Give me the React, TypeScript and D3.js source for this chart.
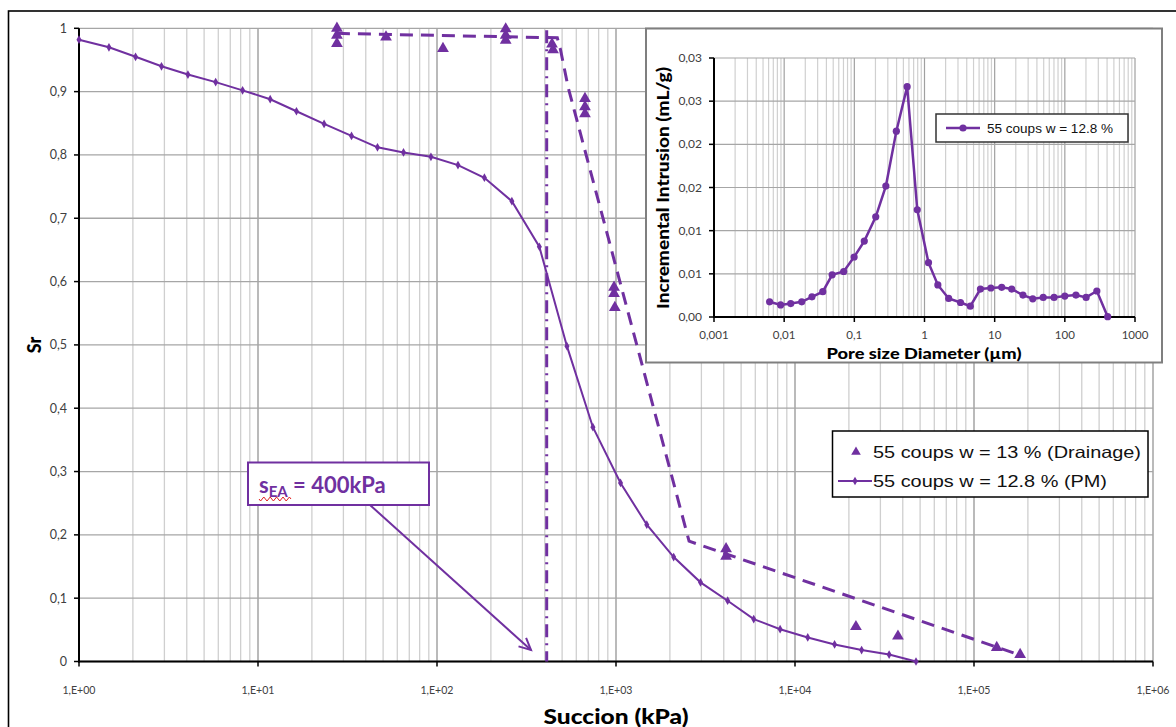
import React from "react";
import * as d3 from "d3";

// ---------- Main chart data ----------
const pmSuction = [1.0, 1.47, 2.07, 2.89, 4.06, 5.8, 8.2, 11.7, 16.4, 23.4, 33.3, 46.5, 65, 92.5, 131, 184, 262, 373, 532, 743, 1060, 1486, 2100, 2965, 4205, 5880, 8260, 11780, 16640, 23560, 33560, 47430];
const pmSr = [0.982, 0.970, 0.955, 0.940, 0.927, 0.915, 0.902, 0.888, 0.869, 0.849, 0.830, 0.812, 0.804, 0.797, 0.784, 0.764, 0.727, 0.655, 0.498, 0.370, 0.282, 0.216, 0.165, 0.125, 0.096, 0.067, 0.051, 0.038, 0.027, 0.018, 0.011, 0.0];

const drainSuction = [27.6, 27.6, 27.6, 51.9, 108, 242, 242, 242, 439, 445, 671, 671, 671, 975, 975, 985, 4120, 4120, 21900, 37600, 134000, 181000];
const drainSr = [1.0, 0.989, 0.976, 0.986, 0.968, 0.999, 0.989, 0.981, 0.975, 0.966, 0.889, 0.876, 0.865, 0.591, 0.581, 0.559, 0.178, 0.166, 0.055, 0.040, 0.022, 0.011];

const fitSuction = [27.6, 470, 490, 540, 2560, 181000];
const fitSr = [0.992, 0.985, 0.966, 0.907, 0.19, 0.01];

const sEA = 410;

const xTickValues = [1, 10, 100, 1000, 10000, 100000, 1000000];
const xTickLabels = ["1,E+00", "1,E+01", "1,E+02", "1,E+03", "1,E+04", "1,E+05", "1,E+06"];
const yTickValues = [0, 0.1, 0.2, 0.3, 0.4, 0.5, 0.6, 0.7, 0.8, 0.9, 1];
const yTickLabels = ["0", "0,1", "0,2", "0,3", "0,4", "0,5", "0,6", "0,7", "0,8", "0,9", "1"];

const legendLabels = ["55 coups w = 13 % (Drainage)", "55 coups w = 12.8 % (PM)"];

// ---------- Inset data ----------
const poreDiameter = [0.0062, 0.0089, 0.0124, 0.0178, 0.0249, 0.0355, 0.0483, 0.0705, 0.0993, 0.1386, 0.2019, 0.2813, 0.397, 0.566, 0.789, 1.14, 1.55, 2.21, 3.26, 4.5, 6.27, 8.83, 12.6, 17.5, 25.3, 34.9, 49.2, 70.2, 100, 144, 201, 286, 408];
const incIntrusion = [0.00176, 0.0014, 0.00156, 0.00176, 0.00234, 0.00293, 0.00488, 0.00527, 0.00695, 0.00879, 0.0116, 0.01516, 0.02152, 0.02668, 0.01242, 0.00629, 0.00371, 0.00215, 0.00168, 0.00125, 0.00324, 0.00336, 0.00344, 0.00324, 0.00254, 0.00211, 0.00227, 0.00227, 0.00242, 0.00254, 0.00227, 0.00301, 0.00004];
const insetXTicks = [0.001, 0.01, 0.1, 1, 10, 100, 1000];
const insetXLabels = ["0,001", "0,01", "0,1", "1", "10", "100", "1000"];
const insetYTicks = [0, 0.005, 0.01, 0.015, 0.02, 0.025, 0.03];
const insetYLabels = ["0,00", "0,01", "0,01", "0,02", "0,02", "0,03", "0,03"];
const insetLegend = "55 coups w = 12.8 %";

const PURPLE = "#7030A0";
const TICK_COLOR = "#404040";
const CAL = "Lato, 'Open Sans', sans-serif";
const ARIAL = "'Liberation Sans', Arial, sans-serif";

function minorTicks(lo: number, hi: number): number[] {
  const out: number[] = [];
  for (let e = Math.round(Math.log10(lo)); e < Math.round(Math.log10(hi)); e++) {
    for (let k = 2; k <= 9; k++) out.push(k * Math.pow(10, e));
  }
  return out;
}

export default function App() {
  const W = 1176, H = 727;
  const x = d3.scaleLog().domain([1, 1e6]).range([79, 1153]);
  const y = d3.scaleLinear().domain([0, 1]).range([661.5, 28.3]);

  const xi = d3.scaleLog().domain([0.001, 1000]).range([714, 1135]);
  const yi = d3.scaleLinear().domain([0, 0.03]).range([317, 58]);

  const pmLine = d3.line<number>().x((_, i) => x(pmSuction[i])).y((_, i) => y(pmSr[i]))(pmSuction)!;
  const fitLine = d3.line<number>().x((_, i) => x(fitSuction[i])).y((_, i) => y(fitSr[i]))(fitSuction)!;
  const insetLine = d3.line<number>().x((_, i) => xi(poreDiameter[i])).y((_, i) => yi(incIntrusion[i]))(poreDiameter)!;

  const tri = d3.symbol().type(d3.symbolTriangle).size(60)()!;
  const triSmall = d3.symbol().type(d3.symbolTriangle).size(40)()!;
  const diamond = d3.symbol().type(d3.symbolDiamond).size(22)()!;

  const mainMinor = minorTicks(1, 1e6);
  const insetMinor = minorTicks(0.001, 1000);

  // Annotation arrow
  const ax1 = 370, ay1 = 505, ax2 = 531, ay2 = 650;
  const ang = Math.atan2(ay2 - ay1, ax2 - ax1);
  const hl = 13, ha = 0.45;
  const head = `M${ax2 - hl * Math.cos(ang - ha)},${ay2 - hl * Math.sin(ang - ha)} L${ax2},${ay2} L${ax2 - hl * Math.cos(ang + ha)},${ay2 - hl * Math.sin(ang + ha)}`;

  // red squiggle under sEA
  let squig = "M259,499";
  for (let i = 0; i < 10; i++) squig += ` l1.6,${i % 2 === 0 ? 2 : -2} l1.6,${i % 2 === 0 ? -2 : 2}`;

  return (
    <svg width={W} height={H} style={{ position: "absolute", left: 0, top: 0, background: "#fff" }}>
      <rect x={0} y={0} width={W} height={H} fill="#fff" />
      {/* outer frame */}
      <rect x={8.5} y={11} width={1200} height={760} fill="none" stroke="#000" strokeWidth={1.6} />

      {/* main grid */}
      {mainMinor.map((v, i) => (
        <line key={"mn" + i} x1={x(v)} x2={x(v)} y1={y(1)} y2={y(0)} stroke="#cfcfcf" strokeWidth={1.3} />
      ))}
      {xTickValues.map((v, i) => (
        <line key={"mj" + i} x1={x(v)} x2={x(v)} y1={y(1)} y2={y(0)} stroke="#8c8c8c" strokeWidth={1.2} />
      ))}
      {yTickValues.map((v, i) => (
        <line key={"hy" + i} x1={x(1)} x2={x(1e6)} y1={y(v)} y2={y(v)} stroke="#a6a6a6" strokeWidth={1.3} />
      ))}

      {/* axes */}
      <line x1={x(1)} x2={x(1)} y1={y(1)} y2={y(0) + 1} stroke="#000" strokeWidth={2} />
      <line x1={x(1) - 1} x2={x(1e6)} y1={y(0)} y2={y(0)} stroke="#000" strokeWidth={2} />
      {yTickValues.map((v, i) => (
        <line key={"yt" + i} x1={x(1) - 5} x2={x(1)} y1={y(v)} y2={y(v)} stroke="#000" strokeWidth={1.5} />
      ))}
      {xTickValues.map((v, i) => (
        <line key={"xt" + i} x1={x(v)} x2={x(v)} y1={y(0)} y2={y(0) + 5} stroke="#000" strokeWidth={1.5} />
      ))}
      {yTickValues.map((v, i) => (
        <text key={"yl" + i} x={67} y={y(v) + 4.5} textAnchor="end" fontFamily={CAL} fontSize={12.5} fill={TICK_COLOR}>{yTickLabels[i]}</text>
      ))}
      {xTickValues.map((v, i) => (
        <text key={"xl" + i} x={x(v)} y={694} textAnchor="middle" fontFamily={CAL} fontSize={11} fill={TICK_COLOR} textLength={33} lengthAdjust="spacingAndGlyphs">{xTickLabels[i]}</text>
      ))}
      <text x={616} y={724} textAnchor="middle" fontFamily={CAL} fontWeight="900" fontSize={21} fill="#000" textLength={145} lengthAdjust="spacingAndGlyphs">Succion (kPa)</text>
      <text transform="translate(41,345) rotate(-90)" textAnchor="middle" fontFamily={CAL} fontWeight="900" fontSize={18} fill="#000">Sr</text>

      {/* dash-dot sEA line */}
      <line x1={x(sEA)} x2={x(sEA)} y1={y(0.997)} y2={y(0)} stroke={PURPLE} strokeWidth={3} strokeDasharray="13 6 2 6" />

      {/* fitted dashed line */}
      <path d={fitLine} fill="none" stroke={PURPLE} strokeWidth={3} strokeDasharray="13 8" />

      {/* PM curve */}
      <path d={pmLine} fill="none" stroke={PURPLE} strokeWidth={2} />
      {pmSuction.map((s, i) => (
        <path key={"pm" + i} d={diamond} transform={`translate(${x(s)},${y(pmSr[i])})`} fill={PURPLE} />
      ))}

      {/* drainage triangles */}
      {drainSuction.map((s, i) => (
        <path key={"dr" + i} d={tri} transform={`translate(${x(s)},${y(drainSr[i])})`} fill={PURPLE} />
      ))}

      {/* annotation */}
      <rect x={248} y={462.5} width={181} height={42.5} fill="#fff" stroke={PURPLE} strokeWidth={2} />
      <text x={259} y={493} fontFamily={CAL} fontWeight="bold" fontSize={22} fill={PURPLE}>
        s<tspan fontSize={15} dy={4}>EA</tspan><tspan dy={-4}> = 400kPa</tspan>
      </text>
      <path d={squig} fill="none" stroke="#e02020" strokeWidth={1} />
      <line x1={ax1} y1={ay1} x2={ax2} y2={ay2} stroke={PURPLE} strokeWidth={2} />
      <path d={head} fill="none" stroke={PURPLE} strokeWidth={2} />

      {/* main legend */}
      <rect x={832.5} y={431} width={315.5} height={66} fill="#fff" stroke="#000" strokeWidth={1.5} />
      <path d={triSmall} transform="translate(856,452)" fill={PURPLE} />
      <text x={873} y={458} fontFamily={ARIAL} fontSize={16.5} fill="#111" textLength={268} lengthAdjust="spacingAndGlyphs">{legendLabels[0]}</text>
      <line x1={838} x2={872} y1={481} y2={481} stroke={PURPLE} strokeWidth={2} />
      <path d={diamond} transform="translate(855,481)" fill={PURPLE} />
      <text x={873} y={487} fontFamily={ARIAL} fontSize={16.5} fill="#111" textLength={234} lengthAdjust="spacingAndGlyphs">{legendLabels[1]}</text>

      {/* ---------- inset ---------- */}
      <rect x={646} y={28.5} width={516} height={334} fill="#fff" stroke="#7f7f7f" strokeWidth={2} />
      {insetMinor.map((v, i) => (
        <line key={"imn" + i} x1={xi(v)} x2={xi(v)} y1={yi(0.03)} y2={yi(0)} stroke="#d0d0d0" strokeWidth={1.2} />
      ))}
      {insetXTicks.map((v, i) => (
        <line key={"imj" + i} x1={xi(v)} x2={xi(v)} y1={yi(0.03)} y2={yi(0)} stroke="#a0a0a0" strokeWidth={1.2} />
      ))}
      {insetYTicks.map((v, i) => (
        <line key={"ih" + i} x1={xi(0.001)} x2={xi(1000)} y1={yi(v)} y2={yi(v)} stroke="#a6a6a6" strokeWidth={1.2} />
      ))}
      <line x1={xi(0.001)} x2={xi(0.001)} y1={yi(0.03)} y2={yi(0) + 1} stroke="#000" strokeWidth={2} />
      <line x1={xi(0.001) - 1} x2={xi(1000)} y1={yi(0)} y2={yi(0)} stroke="#000" strokeWidth={2} />
      {insetYTicks.map((v, i) => (
        <line key={"iyt" + i} x1={xi(0.001) - 5} x2={xi(0.001)} y1={yi(v)} y2={yi(v)} stroke="#000" strokeWidth={1.5} />
      ))}
      {insetXTicks.map((v, i) => (
        <line key={"ixt" + i} x1={xi(v)} x2={xi(v)} y1={yi(0)} y2={yi(0) + 5} stroke="#000" strokeWidth={1.5} />
      ))}
      {insetYTicks.map((v, i) => (
        <text key={"iyl" + i} x={702} y={yi(v) + 4} textAnchor="end" fontFamily={CAL} fontSize={12} fill={TICK_COLOR}>{insetYLabels[i]}</text>
      ))}
      {insetXTicks.map((v, i) => (
        <text key={"ixl" + i} x={xi(v)} y={338.5} textAnchor="middle" fontFamily={CAL} fontSize={11.5} fill={TICK_COLOR}>{insetXLabels[i]}</text>
      ))}
      <text x={924} y={359} textAnchor="middle" fontFamily={CAL} fontWeight="900" fontSize={15.5} fill="#000" textLength={195} lengthAdjust="spacingAndGlyphs">Pore size Diameter (µm)</text>
      <text transform="translate(669,188) rotate(-90)" textAnchor="middle" fontFamily={CAL} fontWeight="900" fontSize={17} fill="#000" textLength={242} lengthAdjust="spacingAndGlyphs">Incremental Intrusion (mL/g)</text>

      <path d={insetLine} fill="none" stroke={PURPLE} strokeWidth={2.5} />
      {poreDiameter.map((d, i) => (
        <circle key={"ip" + i} cx={xi(d)} cy={yi(incIntrusion[i])} r={3.6} fill={PURPLE} />
      ))}

      <rect x={936} y={114} width={192} height={28} fill="#fff" stroke="#333" strokeWidth={1.5} />
      <line x1={946} x2={980} y1={128} y2={128} stroke={PURPLE} strokeWidth={2.5} />
      <circle cx={963} cy={128} r={3.6} fill={PURPLE} />
      <text x={987} y={132.5} fontFamily="'Liberation Sans Narrow', 'Liberation Sans', Arial, sans-serif" fontSize={12.5} fill="#111" textLength={126} lengthAdjust="spacingAndGlyphs">{insetLegend}</text>
    </svg>
  );
}
